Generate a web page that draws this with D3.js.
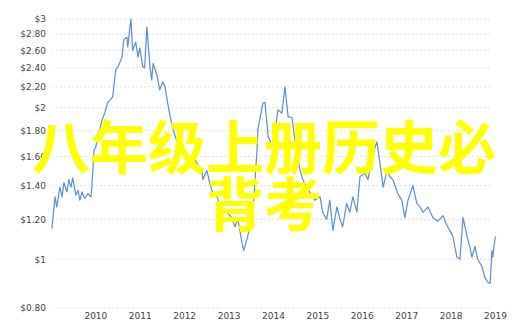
<!DOCTYPE html>
<html>
<head>
<meta charset="utf-8">
<script src="https://cdn.jsdelivr.net/npm/d3@7"></script>
<style>
  body { margin: 0; background: #fff; }
  svg { display: block; }
  .tick text { font-family: "DejaVu Sans", Verdana, sans-serif; font-size: 9px; fill: #444; }
  .overlay { font-family: "Noto Sans CJK SC", sans-serif; font-weight: bold; fill: #ffff00; }
</style>
</head>
<body>
<svg width="524" height="333"></svg>
<script>
// price series, decimal year -> value
var years = [2009.02, 2009.09, 2009.13, 2009.20, 2009.25, 2009.29, 2009.36, 2009.40, 2009.45, 2009.49,
  2009.56, 2009.61, 2009.65, 2009.70, 2009.76, 2009.83, 2009.90, 2009.92, 2009.97, 2010.01,
  2010.06, 2010.10, 2010.15, 2010.21, 2010.28, 2010.33, 2010.39, 2010.46, 2010.51, 2010.60,
  2010.64, 2010.71, 2010.73, 2010.80, 2010.84, 2010.91, 2010.96, 2011.00, 2011.07, 2011.11,
  2011.16, 2011.23, 2011.27, 2011.30, 2011.39, 2011.45, 2011.52, 2011.57, 2011.63, 2011.68,
  2011.75, 2011.90, 2012.06, 2012.20, 2012.29, 2012.40, 2012.42, 2012.51, 2012.62, 2012.74,
  2012.85, 2012.96, 2013.07, 2013.14, 2013.21, 2013.30, 2013.34, 2013.43, 2013.55, 2013.64,
  2013.66, 2013.77, 2013.82, 2013.89, 2014.00, 2014.11, 2014.20, 2014.27, 2014.34, 2014.43,
  2014.49, 2014.61, 2014.67, 2014.76, 2014.94, 2015.06, 2015.12, 2015.21, 2015.28, 2015.35,
  2015.44, 2015.51, 2015.57, 2015.66, 2015.73, 2015.80, 2015.89, 2015.96, 2016.07, 2016.14,
  2016.23, 2016.30, 2016.34, 2016.41, 2016.48, 2016.57, 2016.63, 2016.70, 2016.81, 2016.90,
  2016.97, 2017.04, 2017.15, 2017.24, 2017.31, 2017.38, 2017.49, 2017.60, 2017.71, 2017.83,
  2017.89, 2017.98, 2018.05, 2018.14, 2018.21, 2018.28, 2018.37, 2018.43, 2018.48, 2018.55,
  2018.61, 2018.70, 2018.77, 2018.84, 2018.89, 2018.93, 2018.95, 2019.00, 2019.02];

var prices = [1.15, 1.33, 1.27, 1.39, 1.33, 1.42, 1.36, 1.44, 1.39, 1.45,
  1.34, 1.37, 1.31, 1.36, 1.32, 1.35, 1.33, 1.39, 1.65, 1.67,
  1.78, 1.81, 1.89, 1.95, 2.05, 2.07, 2.10, 2.38, 2.41, 2.52,
  2.73, 2.76, 2.64, 3.00, 2.60, 2.70, 2.52, 2.63, 2.41, 2.40,
  2.89, 2.41, 2.27, 2.45, 2.32, 2.17, 2.25, 2.20, 2.04, 1.93,
  1.81, 1.65, 1.57, 1.61, 1.55, 1.50, 1.44, 1.50, 1.37, 1.33,
  1.25, 1.24, 1.21, 1.16, 1.20, 1.08, 1.04, 1.11, 1.25, 1.65,
  1.81, 2.04, 2.05, 1.75, 1.67, 1.98, 1.95, 2.20, 1.92, 1.91,
  1.73, 1.50, 1.44, 1.39, 1.31, 1.33, 1.24, 1.20, 1.31, 1.14,
  1.27, 1.20, 1.16, 1.29, 1.24, 1.33, 1.24, 1.46, 1.48, 1.44,
  1.57, 1.67, 1.71, 1.55, 1.39, 1.50, 1.46, 1.44, 1.35, 1.31,
  1.21, 1.31, 1.40, 1.29, 1.27, 1.24, 1.27, 1.21, 1.19, 1.22,
  1.18, 1.14, 1.11, 1.01, 1.00, 1.21, 1.11, 1.06, 1.01, 1.06,
  1.00, 0.97, 0.92, 0.90, 0.895, 1.04, 1.01, 1.10, 1.11];

var yTicks = [0.8, 1, 1.2, 1.4, 1.6, 1.8, 2, 2.2, 2.4, 2.6, 2.8, 3];
var yTickLabels = ["$0.80", "$1", "$1.20", "$1.40", "$1.60", "$1.80", "$2", "$2.20", "$2.40", "$2.60", "$2.80", "$3"];
var xTickYears = [2010, 2011, 2012, 2013, 2014, 2015, 2016, 2017, 2018, 2019];
var overlayLines = ["八年级上册历史必", "背考"];

function toDate(t) {
  var y = Math.floor(t);
  var a = new Date(y, 0, 1), b = new Date(y + 1, 0, 1);
  return new Date(+a + (t - y) * (b - a));
}

var svg = d3.select("svg");

var x = d3.scaleTime()
  .domain([new Date(2009, 0, 1), new Date(2019, 0, 1)])
  .range([51, 495]);

var y = d3.scaleLog()
  .domain([0.8, 3])
  .range([308, 19]);

// grid
svg.append("g")
  .selectAll("line")
  .data(yTicks)
  .enter().append("line")
    .attr("x1", 52)
    .attr("x2", 490)
    .attr("y1", function(d) { return y(d); })
    .attr("y2", function(d) { return y(d); })
    .attr("stroke", "#e2e2e2")
    .attr("stroke-dasharray", "2,2");

// y axis
svg.append("g")
  .attr("transform", "translate(48,0)")
  .call(d3.axisLeft(y)
    .tickValues(yTicks)
    .tickSize(0)
    .tickPadding(2)
    .tickFormat(function(d, i) { return yTickLabels[i]; }))
  .select(".domain").remove();

// x axis
svg.append("g")
  .attr("transform", "translate(0,313)")
  .call(d3.axisBottom(x)
    .tickValues(xTickYears.map(function(d) { return new Date(d, 0, 1); }))
    .tickSize(0)
    .tickPadding(0)
    .tickFormat(d3.timeFormat("%Y")))
  .select(".domain").remove();

var data = years.map(function(t, i) { return { date: toDate(t), value: prices[i] }; });

svg.append("path")
  .datum(data)
  .attr("fill", "none")
  .attr("stroke", "#5b8ecb")
  .attr("stroke-width", 1.2)
  .attr("stroke-linejoin", "round")
  .attr("d", d3.line()
    .x(function(d) { return x(d.date); })
    .y(function(d) { return y(d.value); }));

// yellow overlay title
svg.append("g")
  .selectAll("text")
  .data(overlayLines)
  .enter().append("text")
    .attr("class", "overlay")
    .attr("x", 264)
    .attr("y", function(d, i) { return 169 + i * 57; })
    .attr("text-anchor", "middle")
    .attr("font-size", 58)
    .text(function(d) { return d; });
</script>
</body>
</html>
